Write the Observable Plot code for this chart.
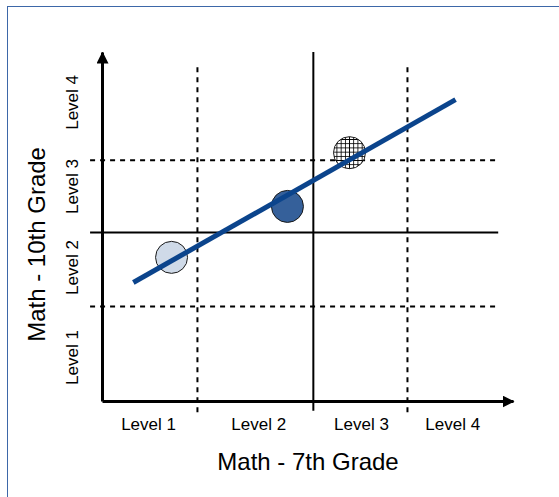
<!DOCTYPE html>
<html><head><meta charset="utf-8">
<script src="https://cdn.jsdelivr.net/npm/d3@7"></script>
<script src="https://cdn.jsdelivr.net/npm/@observablehq/plot@0.6"></script>
<style>
html,body{margin:0;padding:0;background:#fff;}
#wrap{position:relative;width:559px;height:497px;overflow:hidden;}
#border{position:absolute;left:7px;top:6px;width:700px;height:700px;border:1.5px solid #3d67a8;}
#chart{position:absolute;left:0;top:0;}
</style></head><body>
<div id="wrap"><div id="border"></div><div id="chart"></div></div>
<script>
// ---- data (units: percent of each axis length) ----
const xTitle = "Math - 7th Grade";
const yTitle = "Math - 10th Grade";
const levelLabels = ["Level 1", "Level 2", "Level 3", "Level 4"];
const xLabelPos = [11.2, 38.0, 63.0, 85.2];
const yLabelPos = [12.6, 38.4, 61.6, 85.7];
const yLabelX = -7.3;
const yTitlePos = [-15.8, 45.0];
const xCuts = [23.1, 51.3, 74.2];
const xCutSolid = [false, true, false];
const yCuts = [27.2, 48.4, 69.1];
const yCutSolid = [false, true, false];
const vDashedExtent = [-3.2, 95.7];
const vSolidExtent = [-2.8, 100];
const hExtent = [-2.9, 96.4];
const groups = ["Low", "Middle", "High"];
const groupX = [16.8, 45.0, 60.1];
const groupY = [41.3, 55.9, 71.3];
const fitX = [7.5, 85.9];
const fitY = [34.1, 86.5];

// ---- tables built from the arrays ----
const xCutData = xCuts.map((v, i) => ({v, solid: xCutSolid[i]}));
const yCutData = yCuts.map((v, i) => ({v, solid: yCutSolid[i]}));
const points = groups.map((g, i) => ({group: g, x: groupX[i], y: groupY[i]}));
const fit = [{x1: fitX[0], y1: fitY[0], x2: fitX[1], y2: fitY[1]}];
const axesData = [{x1: 0, y1: 0, x2: 0, y2: 100}, {x1: 0, y1: 0, x2: 100, y2: 0}];
const xLab = levelLabels.map((label, i) => ({label, x: xLabelPos[i]}));
const yLab = levelLabels.map((label, i) => ({label, y: yLabelPos[i], x: yLabelX}));
const yTitleData = [{label: yTitle, x: yTitlePos[0], y: yTitlePos[1]}];

const gridColor = "#000";
const chart = Plot.plot({
  width: 559, height: 497,
  marginLeft: 102, marginRight: 46, marginTop: 52, marginBottom: 96,
  style: {fontFamily: "'Liberation Sans', Arial, sans-serif", background: "transparent", color: "#000"},
  x: {domain: [0, 100], axis: null},
  y: {domain: [0, 100], axis: null},
  color: {domain: groups, range: ["#cfdae8", "#35609a", "url(#gridpat)"]},
  marks: [
    Plot.ruleY(yCutData.filter(d => !d.solid), {y: "v", x1: hExtent[0], x2: hExtent[1], stroke: gridColor, strokeWidth: 2, strokeDasharray: "5,5"}),
    Plot.ruleY(yCutData.filter(d => d.solid), {y: "v", x1: hExtent[0], x2: hExtent[1], stroke: gridColor, strokeWidth: 2}),
    Plot.ruleX(xCutData.filter(d => !d.solid), {x: "v", y1: vDashedExtent[0], y2: vDashedExtent[1], stroke: gridColor, strokeWidth: 2, strokeDasharray: "5,5"}),
    Plot.ruleX(xCutData.filter(d => d.solid), {x: "v", y1: vSolidExtent[0], y2: vSolidExtent[1], stroke: gridColor, strokeWidth: 2}),
    Plot.link(axesData, {x1: "x1", y1: "y1", x2: "x2", y2: "y2", stroke: "#000", strokeWidth: 3}),
    Plot.dot(points, {x: "x", y: "y", r: 16, fill: "group", stroke: "#1a1a1a", strokeWidth: 1}),
    Plot.link(fit, {x1: "x1", y1: "y1", x2: "x2", y2: "y2", stroke: "#0b448c", strokeWidth: 5, strokeLinecap: "butt"}),
    Plot.text(xLab, {x: "x", text: "label", frameAnchor: "bottom", dy: 23, fontSize: 17, lineAnchor: "middle"}),
    Plot.text(yLab, {x: "x", y: "y", text: "label", rotate: -90, fontSize: 17, lineAnchor: "middle"}),
    Plot.text([xTitle], {text: d => d, frameAnchor: "bottom", dy: 61, fontSize: 24, lineAnchor: "middle"}),
    Plot.text(yTitleData, {x: "x", y: "y", text: "label", rotate: -90, fontSize: 24, lineAnchor: "middle"})
  ]
});
document.getElementById("chart").appendChild(chart);

// defs: filled arrowhead marker and grid hatch pattern
const svg = d3.select(chart);
const defs = svg.insert("defs", ":first-child");
defs.append("marker").attr("id", "ahead")
  .attr("viewBox", "0 -6 12 12").attr("refX", 11).attr("refY", 0)
  .attr("markerWidth", 12).attr("markerHeight", 12)
  .attr("markerUnits", "userSpaceOnUse").attr("orient", "auto")
  .append("path").attr("d", "M0,-6L12,0L0,6Z").attr("fill", "#000");
const pat = defs.append("pattern").attr("id", "gridpat")
  .attr("patternUnits", "userSpaceOnUse").attr("width", 4.2).attr("height", 4.2);
pat.append("rect").attr("width", 4.2).attr("height", 4.2).attr("fill", "#fff");
pat.append("path").attr("d", "M0,0.4H4.2M0.4,0V4.2").attr("stroke", "#000").attr("stroke-width", 0.9);
svg.selectAll('g[stroke-width="3"] path, g[stroke-width="3"] line').attr("marker-end", "url(#ahead)");
</script>
</body></html>
